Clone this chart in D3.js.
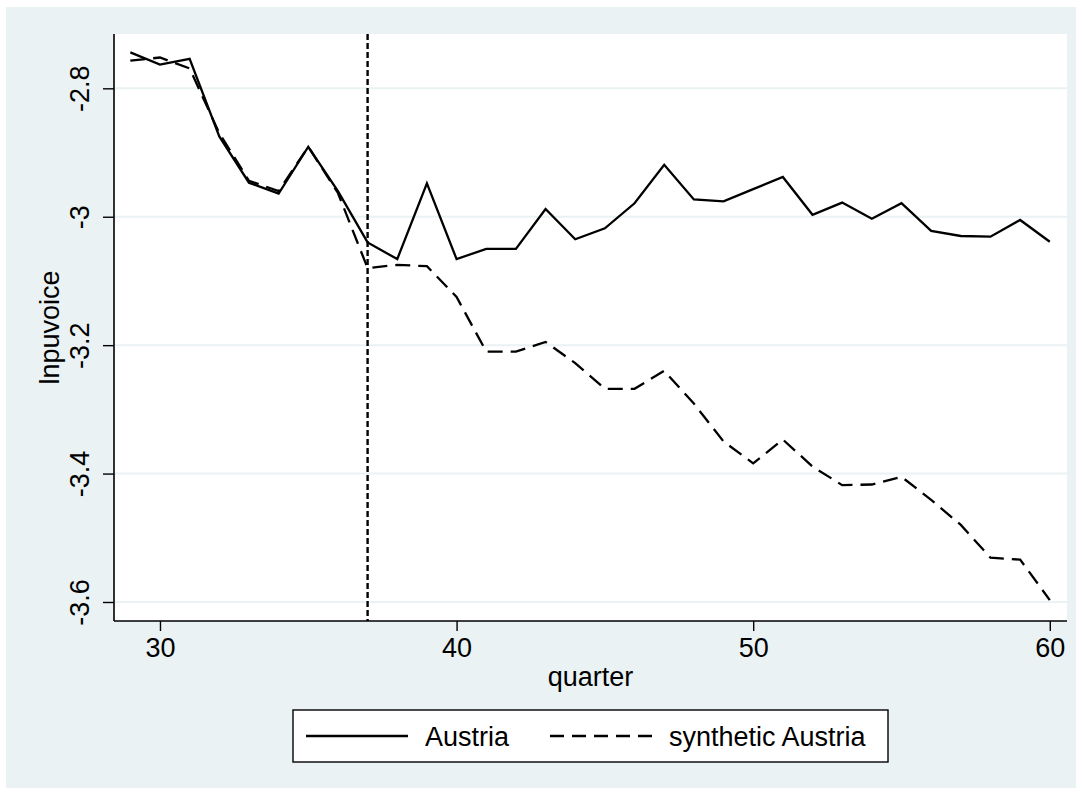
<!DOCTYPE html>
<html>
<head>
<meta charset="utf-8">
<script src="https://cdn.jsdelivr.net/npm/d3@7"></script>
<style>
  html, body { margin: 0; padding: 0; background: #ffffff; }
  svg { display: block; }
  text { font-family: "Liberation Sans", Arial, sans-serif; fill: #000; }
</style>
</head>
<body>
<svg id="chart" width="1082" height="794"></svg>
<script>
// ---- data ----
const quarters = [29,30,31,32,33,34,35,36,37,38,39,40,41,42,43,44,45,46,47,48,49,50,51,52,53,54,55,56,57,58,59,60];
const austria = [-2.744,-2.763,-2.754,-2.875,-2.947,-2.964,-2.891,-2.960,-3.040,-3.066,-2.948,-3.066,-3.050,-3.050,-2.988,-3.035,
                 -3.018,-2.979,-2.919,-2.973,-2.976,-2.957,-2.938,-2.997,-2.978,-3.003,-2.979,-3.022,-3.030,-3.031,-3.005,-3.039];
const synthetic = [-2.757,-2.752,-2.769,-2.870,-2.944,-2.960,-2.891,-2.963,-3.080,-3.075,-3.077,-3.125,-3.210,-3.210,-3.195,-3.228,
                   -3.268,-3.268,-3.240,-3.291,-3.350,-3.384,-3.347,-3.389,-3.418,-3.417,-3.405,-3.441,-3.480,-3.531,-3.534,-3.597];
const xTicks = [30, 40, 50, 60];
const yTicks = [-2.8, -3.0, -3.2, -3.4, -3.6];
const yTickLabels = ["-2.8", "-3", "-3.2", "-3.4", "-3.6"];
const treatmentQuarter = 37;
const seriesNames = ["Austria", "synthetic Austria"];
const xTitle = "quarter";
const yTitle = "lnpuvoice";

// ---- layout ----
const svg = d3.select("#chart");
const plot = { left: 114, right: 1067, top: 34, bottom: 621 };
const bg = "#eaf2f3";
const fontSize = 27;

svg.append("rect").attr("x", 6).attr("y", 7).attr("width", 1070).attr("height", 781).attr("fill", bg);
svg.append("rect").attr("x", plot.left).attr("y", plot.top)
   .attr("width", plot.right - plot.left).attr("height", plot.bottom - plot.top).attr("fill", "#ffffff");

const x = d3.scaleLinear().domain([28.45, 60.58]).range([plot.left, plot.right]);
const y = d3.scaleLinear().domain([-2.7154, -3.6296]).range([plot.top, plot.bottom]);

// gridlines
svg.append("g").selectAll("line").data(yTicks).join("line")
  .attr("x1", plot.left).attr("x2", plot.right)
  .attr("y1", d => y(d)).attr("y2", d => y(d))
  .attr("stroke", bg).attr("stroke-width", 2);

// y axis
const yAxis = d3.axisLeft(y).tickValues(yTicks).tickSize(11).tickFormat((d, i) => yTickLabels[i]);
const gy = svg.append("g").attr("transform", `translate(${plot.left},0)`).call(yAxis);
gy.select(".domain").attr("stroke", "#000").attr("stroke-width", 1.6).attr("d", `M0,${plot.top}V${plot.bottom}`);
gy.selectAll(".tick line").attr("stroke", "#000").attr("stroke-width", 1.4);
gy.selectAll(".tick text")
  .attr("font-size", fontSize).attr("font-family", "Liberation Sans, Arial, sans-serif")
  .attr("x", 0).attr("y", 0).attr("dy", 0)
  .attr("text-anchor", "middle")
  .attr("transform", "translate(-25,0) rotate(-90)");

// x axis
const xAxis = d3.axisBottom(x).tickValues(xTicks).tickSize(10).tickFormat(d3.format("d"));
const gx = svg.append("g").attr("transform", `translate(0,${plot.bottom})`).call(xAxis);
gx.select(".domain").attr("stroke", "#000").attr("stroke-width", 1.6).attr("d", `M${plot.left},0H${plot.right}`);
gx.selectAll(".tick line").attr("stroke", "#000").attr("stroke-width", 1.4);
gx.selectAll(".tick text")
  .attr("font-size", fontSize).attr("font-family", "Liberation Sans, Arial, sans-serif")
  .attr("y", 36).attr("dy", 0);

// axis titles
svg.append("text").attr("x", (plot.left + plot.right) / 2).attr("y", 686)
  .attr("text-anchor", "middle").attr("font-size", fontSize).text(xTitle);
svg.append("text").attr("transform", `translate(59,${(plot.top + plot.bottom) / 2}) rotate(-90)`)
  .attr("text-anchor", "middle").attr("font-size", fontSize).text(yTitle);

// vertical treatment line
svg.append("line")
  .attr("x1", x(treatmentQuarter)).attr("x2", x(treatmentQuarter))
  .attr("y1", plot.top).attr("y2", plot.bottom)
  .attr("stroke", "#000").attr("stroke-width", 2.4).attr("stroke-dasharray", "6,3");

// series lines
const line = d3.line().x(d => x(d[0])).y(d => y(d[1]));
svg.append("path").datum(quarters.map((q, i) => [q, synthetic[i]]))
  .attr("d", line).attr("fill", "none").attr("stroke", "#000")
  .attr("stroke-width", 2.3).attr("stroke-dasharray", "15,8");
svg.append("path").datum(quarters.map((q, i) => [q, austria[i]]))
  .attr("d", line).attr("fill", "none").attr("stroke", "#000")
  .attr("stroke-width", 2.3);

// legend
const lg = svg.append("g");
lg.append("rect").attr("x", 293).attr("y", 710).attr("width", 595).attr("height", 52)
  .attr("fill", "#fff").attr("stroke", "#000").attr("stroke-width", 1.4);
const legendItems = [
  { name: seriesNames[0], x1: 306, x2: 408, tx: 425, dash: null },
  { name: seriesNames[1], x1: 550, x2: 653, tx: 669, dash: "14,8" }
];
legendItems.forEach(it => {
  lg.append("line").attr("x1", it.x1).attr("x2", it.x2).attr("y1", 736).attr("y2", 736)
    .attr("stroke", "#000").attr("stroke-width", 2.3).attr("stroke-dasharray", it.dash);
  lg.append("text").attr("x", it.tx).attr("y", 746).attr("font-size", fontSize).text(it.name);
});
</script>
</body>
</html>
